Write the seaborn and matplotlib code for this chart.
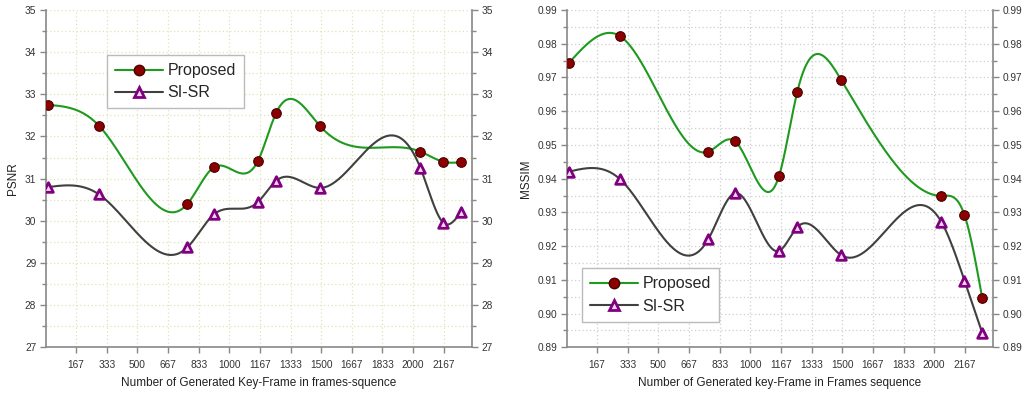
import numpy as np
import matplotlib
matplotlib.use("Agg")
import matplotlib.pyplot as plt
from matplotlib.lines import Line2D
from matplotlib.ticker import MultipleLocator
import seaborn as sns

# ---------------- data ----------------
frames = [15, 290, 772, 916, 1157, 1255, 1495, 2040, 2165, 2262]

psnr_proposed = [32.75, 32.26, 30.40, 31.27, 31.43, 32.56, 32.24, 31.64, 31.40, 31.39]
psnr_sisr = [30.80, 30.63, 29.37, 30.15, 30.45, 30.95, 30.78, 31.25, 29.95, 30.22]

mssim_proposed = [0.9744, 0.9823, 0.9480, 0.9511, 0.9409, 0.9656, 0.9692, 0.9349, 0.9292, 0.9045]
mssim_sisr = [0.9421, 0.9399, 0.9221, 0.9357, 0.9186, 0.9256, 0.9173, 0.9271, 0.9098, 0.8942]

xtick_vals = [166.67 * i for i in range(1, 14)]
xtick_labels = ["167", "333", "500", "667", "833", "1000", "1167", "1333",
                "1500", "1667", "1833", "2000", "2167"]

series_names = ["Proposed", "SI-SR"]


def natural_spline(x, y, n=500):
    x = np.asarray(x, float)
    y = np.asarray(y, float)
    k = len(x)
    h = np.diff(x)
    A = np.zeros((k, k))
    b = np.zeros(k)
    A[0, 0] = 1
    A[-1, -1] = 1
    for i in range(1, k - 1):
        A[i, i - 1] = h[i - 1]
        A[i, i] = 2 * (h[i - 1] + h[i])
        A[i, i + 1] = h[i]
        b[i] = 6 * ((y[i + 1] - y[i]) / h[i] - (y[i] - y[i - 1]) / h[i - 1])
    M = np.linalg.solve(A, b)
    xs = np.linspace(x[0], x[-1], n)
    idx = np.clip(np.searchsorted(x, xs) - 1, 0, k - 2)
    x0, x1 = x[idx], x[idx + 1]
    hh = x1 - x0
    t0 = x1 - xs
    t1 = xs - x0
    ys = (M[idx] * t0 ** 3 / (6 * hh) + M[idx + 1] * t1 ** 3 / (6 * hh)
          + (y[idx] / hh - M[idx] * hh / 6) * t0
          + (y[idx + 1] / hh - M[idx + 1] * hh / 6) * t1)
    return xs, ys


sns.set_theme(style="white")
plt.rcParams['font.family'] = ['Liberation Sans', 'DejaVu Sans']

fig = plt.figure(figsize=(10.24, 3.93), dpi=100)
ax1 = fig.add_axes([0.0449, 0.1163, 0.4160, 0.8583])
ax2 = fig.add_axes([0.5537, 0.1163, 0.4160, 0.8583])

green = "#1e9a1e"
gray = "#404040"
red = "#8b0000"
purple = "#800080"


def draw(ax, yp, ys, ylim, major, minor, gridcolor, ylabel, xlabel, legpos, fmt):
    for vals, col in ((yp, green), (ys, gray)):
        sx, sy = natural_spline(frames, vals)
        sns.lineplot(x=sx, y=sy, ax=ax, color=col, lw=1.5, sort=False,
                     estimator=None)
    sns.scatterplot(x=frames, y=yp, ax=ax, marker="o", s=48, color=red,
                    edgecolor="#4a0000", linewidth=0.8, zorder=5)
    sns.scatterplot(x=frames, y=ys, ax=ax, marker="^", s=48,
                    facecolor="#f0d8f0", edgecolor=purple, linewidth=2.0,
                    zorder=5)
    ax.set_xlim(3, 2320)
    ax.set_ylim(*ylim)
    ax.set_xticks(xtick_vals)
    ax.set_xticklabels(xtick_labels)
    ax.yaxis.set_major_locator(MultipleLocator(major))
    ax.yaxis.set_minor_locator(MultipleLocator(minor))
    ax.yaxis.set_major_formatter(plt.FormatStrFormatter(fmt))
    ax.grid(True, which="both", axis="y", color=gridcolor, ls=(0, (1, 2)), lw=0.9)
    ax.grid(True, which="major", axis="x", color=gridcolor, ls=(0, (1, 2)), lw=0.9)
    ax.set_axisbelow(True)
    for s in ("left", "right", "bottom"):
        ax.spines[s].set_color("#888888")
        ax.spines[s].set_linewidth(1.2)
    ax.spines["top"].set_visible(False)
    ax.tick_params(axis="both", which="major", direction="out", length=4,
                   width=1.0, color="#888888", labelsize=7.3, labelcolor="#333333",
                   pad=3)
    ax.tick_params(axis="y", which="both", left=True, right=True,
                   labelleft=True, labelright=True)
    ax.tick_params(axis="y", which="minor", direction="out", length=3,
                   width=1.0, color="#888888")
    ax.tick_params(axis="x", which="major", bottom=True, pad=5)
    ax.set_ylabel(ylabel, fontsize=8.5, color="#222222", labelpad=4)
    ax.set_xlabel(xlabel, fontsize=8.5, color="#222222", labelpad=5)
    handles = [
        Line2D([], [], color=green, lw=1.5, marker="o", markersize=7.5,
               markerfacecolor=red, markeredgecolor="#4a0000"),
        Line2D([], [], color=gray, lw=1.5, marker="^", markersize=7.5,
               markerfacecolor="#f0d8f0", markeredgecolor=purple,
               markeredgewidth=2.0),
    ]
    leg = ax.legend(handles, series_names, loc="upper left",
                    bbox_to_anchor=legpos, borderaxespad=0, fontsize=11.5,
                    frameon=True, fancybox=False, edgecolor="#bbbbbb",
                    framealpha=1, handlelength=3, handletextpad=0.3,
                    borderpad=0.5, labelspacing=0.45)
    leg.get_frame().set_linewidth(1.0)


draw(ax1, psnr_proposed, psnr_sisr, (27, 35), 1, 0.5, "#e2e2b8", "PSNR",
     "Number of Generated Key-Frame in frames-squence", (0.143, 0.866), "%d")
draw(ax2, mssim_proposed, mssim_sisr, (0.89, 0.99), 0.01, 0.005, "#cfcfcf",
     "MSSIM", "Number of Generated key-Frame in Frames sequence",
     (0.035, 0.234), "%.2f")

fig.savefig("out.png", dpi=100)
